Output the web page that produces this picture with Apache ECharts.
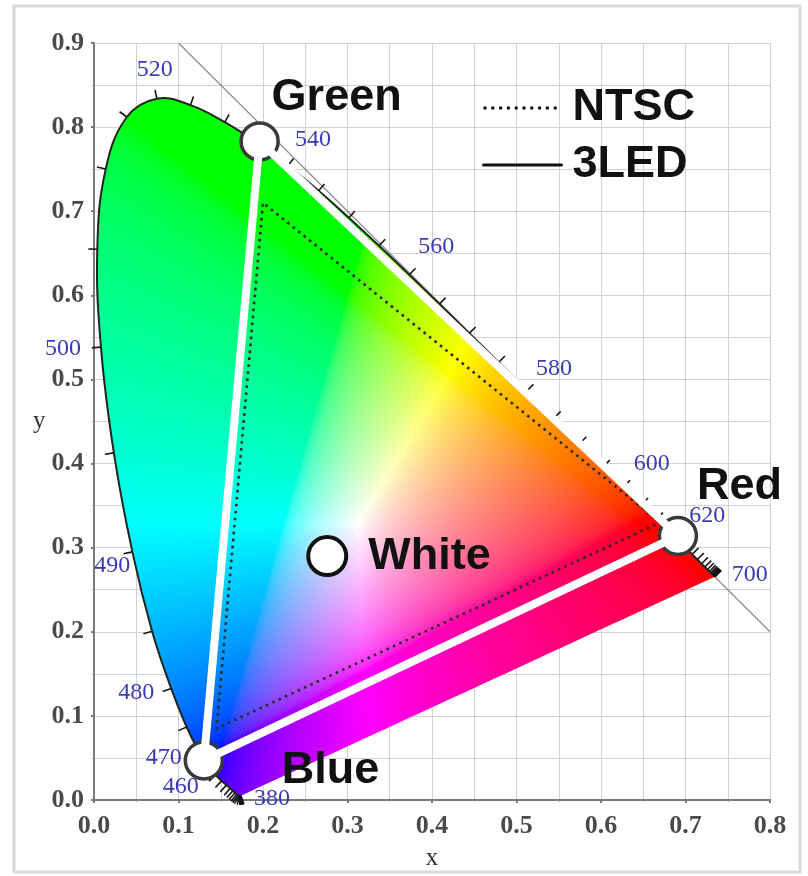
<!DOCTYPE html>
<html>
<head>
<meta charset="utf-8">
<title>CIE 1931 gamut: NTSC vs 3LED</title>
<script src="https://cdn.jsdelivr.net/npm/echarts@6/dist/echarts.min.js"></script>
<style>
  html, body { margin: 0; padding: 0; background: #ffffff; }
  #chart { width: 808px; height: 876px; }
</style>
</head>
<body>
<div id="chart"></div>
<script>
// CIE 1931 2° spectral locus, 5 nm steps from 380 to 700 nm
const wavelengths = [380,385,390,395,400,405,410,415,420,425,430,435,440,445,450,455,460,465,470,475,480,485,490,495,500,505,510,515,520,525,530,535,540,545,550,555,560,565,570,575,580,585,590,595,600,605,610,615,620,625,630,635,640,645,650,655,660,665,670,675,680,685,690,695,700];
const locusX = [0.1741,0.1740,0.1738,0.1736,0.1733,0.1730,0.1726,0.1721,0.1714,0.1703,0.1689,0.1669,0.1644,0.1611,0.1566,0.1510,0.1440,0.1355,0.1241,0.1096,0.0913,0.0687,0.0454,0.0235,0.0082,0.0039,0.0139,0.0389,0.0743,0.1142,0.1547,0.1929,0.2296,0.2658,0.3016,0.3373,0.3731,0.4087,0.4441,0.4788,0.5125,0.5448,0.5752,0.6029,0.6270,0.6482,0.6658,0.6801,0.6915,0.7006,0.7079,0.7140,0.7190,0.7230,0.7260,0.7283,0.7300,0.7311,0.7320,0.7327,0.7334,0.7340,0.7344,0.7346,0.7347];
const locusY = [0.0050,0.0050,0.0049,0.0049,0.0048,0.0048,0.0048,0.0048,0.0051,0.0058,0.0069,0.0086,0.0109,0.0138,0.0177,0.0227,0.0297,0.0399,0.0578,0.0868,0.1327,0.2007,0.2950,0.4127,0.5384,0.6548,0.7502,0.8120,0.8338,0.8262,0.8059,0.7816,0.7543,0.7243,0.6923,0.6589,0.6245,0.5896,0.5547,0.5202,0.4866,0.4544,0.4242,0.3965,0.3725,0.3514,0.3340,0.3197,0.3083,0.2993,0.2920,0.2859,0.2809,0.2770,0.2740,0.2717,0.2700,0.2689,0.2680,0.2673,0.2666,0.2660,0.2656,0.2654,0.2653];

// Wavelengths that carry a printed label
const labelWavelengths = [380,460,470,480,490,500,520,540,560,580,600,620,700];

// x + y = 1 boundary line
const boundaryX = [0.1, 0.8];
const boundaryY = [0.9, 0.2];

// NTSC primaries (R, G, B)
const ntscX = [0.67, 0.20, 0.145];
const ntscY = [0.33, 0.71, 0.085];

// 3LED primaries (R, G, B) and white point
const ledNames = ['Red', 'Green', 'Blue'];
const ledX = [0.691, 0.196, 0.130];
const ledY = [0.314, 0.783, 0.047];
const whiteName = 'White';
const whiteX = [0.276];
const whiteY = [0.290];

// Axis ranges and tick step
const xMax = 0.8, yMax = 0.9, tickStep = 0.1;

// ---- styling -------------------------------------------------------------
const SERIF = '"Liberation Serif", "DejaVu Serif", serif';
const SANS = '"Liberation Sans", Arial, sans-serif';
const CURVE_SMOOTH = 0.4;
const waveLabelOffset = {
  380: [31, 3], 460: [-35, 12], 470: [-35, 6], 480: [-35, 4], 490: [-20, 14],
  500: [-38, 2], 520: [-2, -29], 540: [25, -26], 560: [27, -28], 580: [27, -22],
  600: [28, -23], 620: [29, -25], 700: [35, -2]
};
const ledLabelOffset = { Red: [19, -49], Green: [12, -44], Blue: [78, 10] };

// ---- chromaticity colour fill ---------------------------------------------
function xyToRGB(x, y) {
  if (y <= 0.0005) y = 0.0005;
  const X = x / y, Y = 1, Z = (1 - x - y) / y;
  let r = 3.2406 * X - 1.5372 * Y - 0.4986 * Z;
  let g = -0.9689 * X + 1.8758 * Y + 0.0415 * Z;
  let b = 0.0557 * X - 0.2040 * Y + 1.0570 * Z;
  r = Math.max(r, 0); g = Math.max(g, 0); b = Math.max(b, 0);
  const m = Math.max(r, g, b) || 1;
  const gam = v => {
    v = v / m;
    return v <= 0.0031308 ? 12.92 * v : 1.055 * Math.pow(v, 1 / 2.4) - 0.055;
  };
  return [gam(r), gam(g), gam(b)];
}

let gamutFill = '#ffffff';

function buildGamutCanvas(chart) {
  const W = 808, H = 876;
  const p0 = chart.convertToPixel({ gridIndex: 0 }, [0, 0]);
  const p1 = chart.convertToPixel({ gridIndex: 0 }, [xMax, yMax]);
  const sx = xMax / (p1[0] - p0[0]);
  const sy = yMax / (p1[1] - p0[1]);
  const cv = document.createElement('canvas');
  cv.width = W; cv.height = H;
  const ctx = cv.getContext('2d');
  const img = ctx.createImageData(W, H);
  const d = img.data;
  for (let py = 0; py < H; py++) {
    const y = (py + 0.5 - p0[1]) * sy;
    if (y < -0.01 || y > 0.86) continue;
    for (let px = 0; px < W; px++) {
      const x = (px + 0.5 - p0[0]) * sx;
      if (x < -0.01 || x > 0.75) continue;
      const c = xyToRGB(x, Math.max(y, 0.001));
      const k = (py * W + px) * 4;
      d[k] = Math.round(c[0] * 255);
      d[k + 1] = Math.round(c[1] * 255);
      d[k + 2] = Math.round(c[2] * 255);
      d[k + 3] = 255;
    }
  }
  ctx.putImageData(img, 0, 0);
  return cv;
}

// ---- chart ---------------------------------------------------------------
const chart = echarts.init(document.getElementById('chart'), null, { renderer: 'canvas' });

const locusPts = wavelengths.map((w, i) => [locusX[i], locusY[i]]);
const ntscPts = ntscX.map((x, i) => [x, ntscY[i]]);
ntscPts.push(ntscPts[0].slice());
const ledPts = ledX.map((x, i) => [x, ledY[i]]);
ledPts.push(ledPts[0].slice());

function axisCommon(max, name, nameGap, isY) {
  return {
    type: 'value', min: 0, max: max, interval: tickStep,
    name: name, nameLocation: 'middle', nameGap: nameGap, nameRotate: 0,
    nameTextStyle: { fontFamily: SERIF, fontSize: 25, color: '#333' },
    axisLine: { show: true, onZero: false, lineStyle: { color: '#7a7a7a', width: 2 } },
    axisTick: { show: true, inside: false, length: 3, lineStyle: { color: '#7a7a7a', width: 2 } },
    minorTick: { show: true, splitNumber: 2, length: 2, lineStyle: { color: '#9a9a9a' } },
    splitLine: { show: true, lineStyle: { color: '#d2d2d2', width: 1 } },
    minorSplitLine: { show: true, lineStyle: { color: '#d2d2d2', width: 1 } },
    axisLabel: {
      show: true, margin: isY ? 10 : 13,
      fontFamily: SERIF, fontSize: 26, fontWeight: 'bold', color: '#4a4a4a',
      formatter: v => v.toFixed(1)
    }
  };
}

function buildOption() {
  return {
    animation: false,
    backgroundColor: '#ffffff',
    grid: { left: 94, right: 38, top: 43, bottom: 73, containLabel: false },
    xAxis: axisCommon(xMax, 'x', 46, false),
    yAxis: axisCommon(yMax, 'y', 46, true),
    legend: {
      show: true,
      orient: 'vertical',
      left: 477, top: 80, padding: 5,
      itemWidth: 78, itemHeight: 14, itemGap: 11,
      selectedMode: false,
      textStyle: { fontFamily: SANS, fontSize: 45, fontWeight: 'bold', color: '#111', lineHeight: 46, padding: [0, 0, 0, 6] },
      data: [
        { name: 'NTSC', itemStyle: { opacity: 0 }, lineStyle: { color: '#111', width: 3, type: [3, 4.8] } },
        { name: '3LED', itemStyle: { opacity: 0 }, lineStyle: { color: '#111', width: 3, type: 'solid' } }
      ]
    },
    graphic: [{
      type: 'rect', silent: true, z: 100,
      shape: { x: 14, y: 6, width: 786, height: 866 },
      style: { fill: 'none', stroke: '#d9d9d9', lineWidth: 3 }
    }],
    series: [
      {
        id: 'gamut', type: 'custom', silent: true, z: 1,
        data: [0],
        renderItem: function (params, api) {
          const pts = locusPts.map(p => api.coord(p));
          return {
            type: 'polygon',
            shape: { points: pts, smooth: CURVE_SMOOTH },
            style: { fill: gamutFill, stroke: null }
          };
        }
      },
      {
        id: 'boundary', type: 'line', silent: true, z: 2,
        data: boundaryX.map((x, i) => [x, boundaryY[i]]),
        symbol: 'none',
        lineStyle: { color: '#8c8c8c', width: 1.2 }
      },
      {
        id: 'locus', type: 'custom', silent: true, z: 3,
        data: [0],
        renderItem: function (params, api) {
          const pts = locusPts.map(p => api.coord(p));
          return {
            type: 'polyline',
            shape: { points: pts, smooth: CURVE_SMOOTH },
            style: { fill: null, stroke: '#1e261e', lineWidth: 2 }
          };
        }
      },
      {
        id: 'locusTicks', type: 'custom', silent: true, z: 3,
        data: wavelengths.map((w, i) => i),
        renderItem: function (params, api) {
          const i = api.value(0);
          const a = api.coord(locusPts[Math.max(i - 1, 0)]);
          const b = api.coord(locusPts[Math.min(i + 1, locusPts.length - 1)]);
          const p = api.coord(locusPts[i]);
          let dx = b[0] - a[0], dy = b[1] - a[1];
          const len = Math.hypot(dx, dy) || 1;
          const nx = dy / len, ny = -dx / len;
          const L = 9;
          return {
            type: 'line',
            shape: { x1: p[0], y1: p[1], x2: p[0] + nx * L, y2: p[1] + ny * L },
            style: { stroke: '#151515', lineWidth: 1.6 }
          };
        }
      },
      {
        id: 'waveLabels', type: 'custom', silent: true, z: 8,
        data: labelWavelengths,
        renderItem: function (params, api) {
          const w = api.value(0);
          const i = wavelengths.indexOf(w);
          const p = api.coord(locusPts[i]);
          const off = waveLabelOffset[w] || [0, 0];
          return {
            type: 'text',
            x: p[0] + off[0], y: p[1] + off[1],
            style: {
              text: String(w),
              font: '24px ' + SERIF,
              fill: '#3a3ab4',
              align: 'center', verticalAlign: 'middle',
              textAlign: 'center', textVerticalAlign: 'middle'
            }
          };
        }
      },
      {
        id: 'ntsc', name: 'NTSC', type: 'line', silent: true, z: 4,
        data: ntscPts, symbol: 'none',
        lineStyle: { color: '#2a2a2a', width: 2.6, type: [2.6, 4.4] }
      },
      {
        id: 'ledPoints', type: 'scatter', silent: true, z: 5,
        symbol: 'circle', symbolSize: 37,
        itemStyle: { color: '#ffffff', borderColor: '#3a3a3a', borderWidth: 3.5, opacity: 1 },
        data: ledNames.map((n, i) => ({
          name: n, value: [ledX[i], ledY[i]],
          label: { offset: ledLabelOffset[n] }
        })),
        label: {
          show: true, position: 'inside', formatter: '{b}',
          align: 'left', verticalAlign: 'middle',
          fontFamily: SANS, fontSize: 45, fontWeight: 'bold', color: '#111'
        }
      },
      {
        id: 'led', name: '3LED', type: 'line', silent: true, z: 6,
        data: ledPts, symbol: 'none',
        lineStyle: { color: '#ffffff', width: 8, cap: 'round', join: 'round' }
      },
      {
        id: 'white', type: 'scatter', silent: true, z: 7,
        symbol: 'circle', symbolSize: 38,
        itemStyle: { color: '#ffffff', borderColor: '#111', borderWidth: 4, opacity: 1 },
        data: whiteX.map((x, i) => ({ name: whiteName, value: [x, whiteY[i]] })),
        label: {
          show: true, position: 'inside', formatter: '{b}',
          align: 'left', verticalAlign: 'middle', offset: [41, 1],
          fontFamily: SANS, fontSize: 45, fontWeight: 'bold', color: '#111'
        }
      }
    ]
  };
}

chart.setOption(buildOption());
const gamutCanvas = buildGamutCanvas(chart);
gamutFill = { image: gamutCanvas, repeat: 'no-repeat' };
chart.setOption(buildOption(), { notMerge: true });
</script>
</body>
</html>
